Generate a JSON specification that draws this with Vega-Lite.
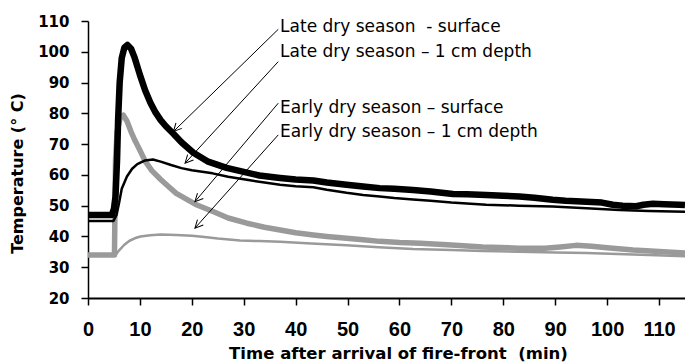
{
  "$schema": "https://vega.github.io/schema/vega-lite/v6.json",
  "width": 597,
  "height": 277,
  "autosize": "none",
  "padding": {"left": 88, "top": 21, "right": 0, "bottom": 65},
  "background": "white",
  "config": {"view": {"stroke": null}},
  "datasets": {
    "temps": [
      {"s": "Early 1 cm", "t": 0, "temp": 34}, {"s": "Early 1 cm", "t": 5.3, "temp": 34}, {"s": "Early 1 cm", "t": 6, "temp": 35.5}, {"s": "Early 1 cm", "t": 7, "temp": 37.3}, {"s": "Early 1 cm", "t": 8, "temp": 38.6}, {"s": "Early 1 cm", "t": 9, "temp": 39.4}, {"s": "Early 1 cm", "t": 10.1, "temp": 40}, {"s": "Early 1 cm", "t": 12, "temp": 40.4}, {"s": "Early 1 cm", "t": 14, "temp": 40.6}, {"s": "Early 1 cm", "t": 17, "temp": 40.5}, {"s": "Early 1 cm", "t": 20, "temp": 40.2}, {"s": "Early 1 cm", "t": 22, "temp": 39.9}, {"s": "Early 1 cm", "t": 25, "temp": 39.3}, {"s": "Early 1 cm", "t": 29.3, "temp": 38.7}, {"s": "Early 1 cm", "t": 33, "temp": 38.5}, {"s": "Early 1 cm", "t": 37, "temp": 38.3}, {"s": "Early 1 cm", "t": 43, "temp": 37.7}, {"s": "Early 1 cm", "t": 49.8, "temp": 37.1}, {"s": "Early 1 cm", "t": 56, "temp": 36.5}, {"s": "Early 1 cm", "t": 62.6, "temp": 35.9}, {"s": "Early 1 cm", "t": 70, "temp": 35.6}, {"s": "Early 1 cm", "t": 76, "temp": 35.3}, {"s": "Early 1 cm", "t": 83, "temp": 35.0}, {"s": "Early 1 cm", "t": 90, "temp": 34.8}, {"s": "Early 1 cm", "t": 96, "temp": 34.6}, {"s": "Early 1 cm", "t": 102, "temp": 34.3}, {"s": "Early 1 cm", "t": 108, "temp": 34.0}, {"s": "Early 1 cm", "t": 115, "temp": 33.6},

      {"s": "Early surface", "t": 0, "temp": 34}, {"s": "Early surface", "t": 5.1, "temp": 34}, {"s": "Early surface", "t": 5.2, "temp": 50}, {"s": "Early surface", "t": 5.3, "temp": 65}, {"s": "Early surface", "t": 5.6, "temp": 74}, {"s": "Early surface", "t": 6.2, "temp": 78.5}, {"s": "Early surface", "t": 6.8, "temp": 79.4}, {"s": "Early surface", "t": 7.5, "temp": 77.5}, {"s": "Early surface", "t": 8.3, "temp": 74}, {"s": "Early surface", "t": 9.1, "temp": 71}, {"s": "Early surface", "t": 10, "temp": 68}, {"s": "Early surface", "t": 11, "temp": 64.5}, {"s": "Early surface", "t": 12.3, "temp": 61.4}, {"s": "Early surface", "t": 14, "temp": 58.5}, {"s": "Early surface", "t": 15.5, "temp": 56.2}, {"s": "Early surface", "t": 17, "temp": 54}, {"s": "Early surface", "t": 18.7, "temp": 52.4}, {"s": "Early surface", "t": 21, "temp": 50.2}, {"s": "Early surface", "t": 24.2, "temp": 48}, {"s": "Early surface", "t": 27, "temp": 46}, {"s": "Early surface", "t": 30.6, "temp": 44.3}, {"s": "Early surface", "t": 34, "temp": 43}, {"s": "Early surface", "t": 37, "temp": 42.1}, {"s": "Early surface", "t": 40, "temp": 41.2}, {"s": "Early surface", "t": 43.4, "temp": 40.5}, {"s": "Early surface", "t": 46, "temp": 40}, {"s": "Early surface", "t": 49.8, "temp": 39.4}, {"s": "Early surface", "t": 53, "temp": 38.9}, {"s": "Early surface", "t": 56.2, "temp": 38.4}, {"s": "Early surface", "t": 60, "temp": 38}, {"s": "Early surface", "t": 64, "temp": 37.8}, {"s": "Early surface", "t": 70, "temp": 37.2}, {"s": "Early surface", "t": 76, "temp": 36.6}, {"s": "Early surface", "t": 83, "temp": 36.2}, {"s": "Early surface", "t": 88, "temp": 36.2}, {"s": "Early surface", "t": 91, "temp": 36.6}, {"s": "Early surface", "t": 94, "temp": 37.1}, {"s": "Early surface", "t": 97, "temp": 36.8}, {"s": "Early surface", "t": 100, "temp": 36.3}, {"s": "Early surface", "t": 105, "temp": 35.6}, {"s": "Early surface", "t": 110, "temp": 35.1}, {"s": "Early surface", "t": 115, "temp": 34.6},

      {"s": "Late 1 cm", "t": 0, "temp": 45}, {"s": "Late 1 cm", "t": 4.9, "temp": 45}, {"s": "Late 1 cm", "t": 5.5, "temp": 47}, {"s": "Late 1 cm", "t": 6, "temp": 51}, {"s": "Late 1 cm", "t": 6.5, "temp": 55.5}, {"s": "Late 1 cm", "t": 7.5, "temp": 59.5}, {"s": "Late 1 cm", "t": 8.5, "temp": 62}, {"s": "Late 1 cm", "t": 9.5, "temp": 63.5}, {"s": "Late 1 cm", "t": 11, "temp": 64.7}, {"s": "Late 1 cm", "t": 12.5, "temp": 65}, {"s": "Late 1 cm", "t": 14, "temp": 64.3}, {"s": "Late 1 cm", "t": 16, "temp": 63.2}, {"s": "Late 1 cm", "t": 18, "temp": 62.2}, {"s": "Late 1 cm", "t": 20, "temp": 61.5}, {"s": "Late 1 cm", "t": 24, "temp": 60.5}, {"s": "Late 1 cm", "t": 27, "temp": 59.4}, {"s": "Late 1 cm", "t": 30.6, "temp": 58.4}, {"s": "Late 1 cm", "t": 34, "temp": 57.5}, {"s": "Late 1 cm", "t": 37, "temp": 56.8}, {"s": "Late 1 cm", "t": 40, "temp": 56.3}, {"s": "Late 1 cm", "t": 43.4, "temp": 56}, {"s": "Late 1 cm", "t": 46, "temp": 55.2}, {"s": "Late 1 cm", "t": 49.8, "temp": 54.2}, {"s": "Late 1 cm", "t": 53, "temp": 53.5}, {"s": "Late 1 cm", "t": 56.2, "temp": 53}, {"s": "Late 1 cm", "t": 59, "temp": 52.5}, {"s": "Late 1 cm", "t": 62.6, "temp": 52}, {"s": "Late 1 cm", "t": 66, "temp": 51.6}, {"s": "Late 1 cm", "t": 70, "temp": 51}, {"s": "Late 1 cm", "t": 76.7, "temp": 50.3}, {"s": "Late 1 cm", "t": 83, "temp": 50}, {"s": "Late 1 cm", "t": 89.5, "temp": 49.7}, {"s": "Late 1 cm", "t": 96, "temp": 49.2}, {"s": "Late 1 cm", "t": 102.4, "temp": 48.6}, {"s": "Late 1 cm", "t": 108, "temp": 48.3}, {"s": "Late 1 cm", "t": 115, "temp": 48},

      {"s": "Late surface", "t": 0, "temp": 47}, {"s": "Late surface", "t": 4.6, "temp": 47}, {"s": "Late surface", "t": 5.0, "temp": 49}, {"s": "Late surface", "t": 5.3, "temp": 53}, {"s": "Late surface", "t": 5.6, "temp": 65}, {"s": "Late surface", "t": 5.8, "temp": 78}, {"s": "Late surface", "t": 6.1, "temp": 90}, {"s": "Late surface", "t": 6.5, "temp": 98}, {"s": "Late surface", "t": 7.0, "temp": 101.3}, {"s": "Late surface", "t": 7.6, "temp": 102.2}, {"s": "Late surface", "t": 8.3, "temp": 101}, {"s": "Late surface", "t": 9, "temp": 98}, {"s": "Late surface", "t": 10, "temp": 92.5}, {"s": "Late surface", "t": 11, "temp": 87.5}, {"s": "Late surface", "t": 12, "temp": 83.5}, {"s": "Late surface", "t": 13, "temp": 80.3}, {"s": "Late surface", "t": 14, "temp": 77.8}, {"s": "Late surface", "t": 15, "temp": 75.8}, {"s": "Late surface", "t": 16.5, "temp": 73.3}, {"s": "Late surface", "t": 18, "temp": 70.6}, {"s": "Late surface", "t": 20.3, "temp": 67.2}, {"s": "Late surface", "t": 23, "temp": 64.4}, {"s": "Late surface", "t": 26.7, "temp": 62.3}, {"s": "Late surface", "t": 30, "temp": 61}, {"s": "Late surface", "t": 33, "temp": 59.8}, {"s": "Late surface", "t": 37, "temp": 59}, {"s": "Late surface", "t": 40, "temp": 58.5}, {"s": "Late surface", "t": 43.4, "temp": 58.2}, {"s": "Late surface", "t": 46, "temp": 57.5}, {"s": "Late surface", "t": 49.8, "temp": 56.8}, {"s": "Late surface", "t": 53, "temp": 56.2}, {"s": "Late surface", "t": 56.2, "temp": 55.7}, {"s": "Late surface", "t": 59, "temp": 55.5}, {"s": "Late surface", "t": 62.6, "temp": 55.1}, {"s": "Late surface", "t": 66, "temp": 54.6}, {"s": "Late surface", "t": 70.3, "temp": 53.8}, {"s": "Late surface", "t": 73, "temp": 53.7}, {"s": "Late surface", "t": 76.7, "temp": 53.5}, {"s": "Late surface", "t": 80, "temp": 53.2}, {"s": "Late surface", "t": 83.1, "temp": 53}, {"s": "Late surface", "t": 86, "temp": 52.6}, {"s": "Late surface", "t": 89.5, "temp": 51.9}, {"s": "Late surface", "t": 92, "temp": 51.6}, {"s": "Late surface", "t": 96, "temp": 51.3}, {"s": "Late surface", "t": 99, "temp": 51}, {"s": "Late surface", "t": 101.1, "temp": 50.3}, {"s": "Late surface", "t": 103, "temp": 50}, {"s": "Late surface", "t": 105.6, "temp": 49.8}, {"s": "Late surface", "t": 107, "temp": 50.3}, {"s": "Late surface", "t": 108.8, "temp": 50.6}, {"s": "Late surface", "t": 111, "temp": 50.5}, {"s": "Late surface", "t": 113.9, "temp": 50.3}, {"s": "Late surface", "t": 115, "temp": 50.2}
    ],
    "arrows": [
      {"x1": 36.65, "y1": 107.3, "x2": 16.46, "y2": 74.1},
      {"x1": 36.65, "y1": 96.8, "x2": 18.7, "y2": 63.8},
      {"x1": 36.65, "y1": 83.3, "x2": 20.6, "y2": 51.3},
      {"x1": 36.65, "y1": 73.0, "x2": 20.6, "y2": 42.7}
    ],
    "labels": [
      {"x": 37.0, "y": 106.3, "label": "Late dry season \u00a0- surface"},
      {"x": 37.0, "y": 98.4, "label": "Late dry season – 1 cm depth"},
      {"x": 37.0, "y": 80.0, "label": "Early dry season – surface"},
      {"x": 37.0, "y": 72.2, "label": "Early dry season – 1 cm depth"}
    ]
  },
  "layer": [
    {
      "data": {"name": "temps"},
      "mark": {"type": "line", "clip": true, "strokeJoin": "round", "strokeCap": "butt"},
      "encoding": {
        "x": {
          "field": "t", "type": "quantitative",
          "scale": {"domain": [0, 115], "nice": false, "zero": false},
          "axis": {
            "values": [0, 10, 20, 30, 40, 50, 60, 70, 80, 90, 100, 110],
            "tickCount": 12,
            "grid": false, "labelOverlap": false,
            "domainColor": "black", "domainWidth": 2,
            "tickColor": "black", "tickWidth": 1.5, "tickSize": 7,
            "labelFont": "Liberation Sans", "labelFontSize": 20, "labelFontWeight": "bold", "labelColor": "black",
            "labelPadding": 14, "labelFlush": false,
            "title": "Time after arrival of fire-front \u00a0(min)",
            "titleFont": "DejaVu Sans", "titleFontSize": 16.5, "titleFontWeight": "bold", "titleColor": "black",
            "titleX": 310, "titleY": 60, "titleBaseline": "alphabetic", "titleAnchor": "middle"
          }
        },
        "y": {
          "field": "temp", "type": "quantitative",
          "scale": {"domain": [20, 110], "nice": false, "zero": false},
          "axis": {
            "values": [20, 30, 40, 50, 60, 70, 80, 90, 100, 110],
            "tickCount": 10,
            "grid": false, "labelOverlap": false,
            "domainColor": "black", "domainWidth": 1.5,
            "tickColor": "black", "tickWidth": 1.5, "tickSize": 7,
            "labelFont": "DejaVu Sans", "labelFontSize": 15, "labelFontWeight": "bold", "labelColor": "black",
            "labelPadding": 12, "labelFlush": false,
            "title": "Temperature (° C)",
            "titleFont": "DejaVu Sans", "titleFontSize": 16, "titleFontWeight": "bold", "titleColor": "black",
            "titleAngle": 270, "titleX": -66, "titleY": 152, "titleBaseline": "alphabetic", "titleAlign": "center"
          }
        },
        "color": {
          "field": "s", "type": "nominal",
          "scale": {"domain": ["Early 1 cm", "Early surface", "Late 1 cm", "Late surface"], "range": ["#9a9a9a", "#9a9a9a", "#000000", "#000000"]},
          "legend": null
        },
        "strokeWidth": {
          "field": "s", "type": "nominal",
          "scale": {"type": "ordinal", "domain": ["Early 1 cm", "Early surface", "Late 1 cm", "Late surface"], "range": [2.5, 5.5, 2.5, 6.5]},
          "legend": null
        }
      }
    },
    {
      "data": {"name": "arrows"},
      "mark": {"type": "rule", "color": "black", "strokeWidth": 1},
      "encoding": {
        "x": {"field": "x1", "type": "quantitative"},
        "y": {"field": "y1", "type": "quantitative"},
        "x2": {"field": "x2"},
        "y2": {"field": "y2"}
      }
    },
    {
      "data": {"name": "arrows"},
      "mark": {"type": "point", "shape": "M-2,-1L0,0L-2,1", "filled": false, "stroke": "black", "strokeWidth": 1, "size": 64, "angle": 133, "opacity": 1},
      "encoding": {
        "x": {"field": "x2", "type": "quantitative"},
        "y": {"field": "y2", "type": "quantitative"}
      }
    },
    {
      "data": {"name": "labels"},
      "mark": {"type": "text", "align": "left", "baseline": "alphabetic", "font": "DejaVu Sans", "fontSize": 17, "color": "black"},
      "encoding": {
        "x": {"field": "x", "type": "quantitative"},
        "y": {"field": "y", "type": "quantitative"},
        "text": {"field": "label"}
      }
    }
  ]
}
